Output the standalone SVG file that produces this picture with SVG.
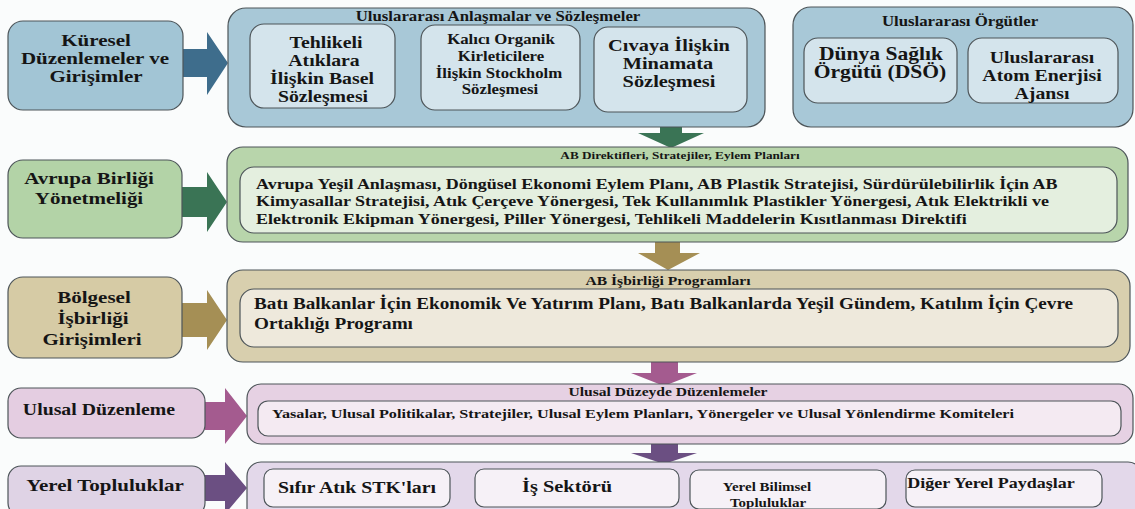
<svg xmlns="http://www.w3.org/2000/svg" width="1135" height="509" viewBox="0 0 1135 509">
<style>
text{font-family:'Liberation Serif','Times New Roman',serif;font-weight:bold;fill:#151515}
.m{text-anchor:middle}
rect{stroke:#4d5559;stroke-width:1.2}
</style>
<rect x="0" y="0" width="1135" height="509" fill="#fafcfc" style="stroke:none"/>

<g id="connectors">
  <polygon points="183,49 207,49 207,32 228,63 207,95 207,77 183,77" fill="#3e6d8c"/>
  <polygon points="182,187 207,187 207,172 227,202 207,232 207,217 182,217" fill="#3a7455"/>
  <polygon points="182,303 207,303 207,290 227,320 207,350 207,337 182,337" fill="#a58f55"/>
  <polygon points="205,402 225,402 225,388 247,416 225,444 225,430 205,430" fill="#a45b8f"/>
  <polygon points="205,475 225,475 225,462 247,488 225,514 225,501 205,501" fill="#6b4f82"/>
  <polygon points="660,127 682,127 682,133 704,133 671,148 638,133 660,133" fill="#3a7455"/>
  <polygon points="655,242 680,242 680,253 700,253 668,270 638,253 655,253" fill="#a58f55"/>
  <polygon points="651,362 678,362 678,373 697,373 664,386 631,373 651,373" fill="#a45b8f"/>
  <polygon points="651,444 678,444 678,453 697,453 664,464 631,453 651,453" fill="#6b4f82"/>
</g>

<g id="kuresel">
  <rect x="8" y="21" width="175" height="89" rx="15" fill="#a2c5d5"/>
  <text class="m" font-size="17.5" transform="translate(96,46) scale(1.2,1)">Küresel</text>
  <text class="m" font-size="17.5" transform="translate(95,64) scale(1.2,1)">Düzenlemeler ve</text>
  <text class="m" font-size="17.5" transform="translate(96,82) scale(1.2,1)">Girişimler</text>
</g>

<g id="anlasmalar">
  <rect x="228" y="8" width="537" height="119" rx="18" fill="#a8c8d7"/>
  <text class="m" font-size="14" transform="translate(498,21) scale(1.2,1)">Uluslararası Anlaşmalar ve Sözleşmeler</text>
</g>
<g id="basel">
  <rect x="250" y="24" width="145" height="84" rx="14" fill="#d4e4ec"/>
  <text class="m" font-size="16.5" transform="translate(326,48) scale(1.2,1)">Tehlikeli</text>
  <text class="m" font-size="16.5" transform="translate(324,66) scale(1.2,1)">Atıklara</text>
  <text class="m" font-size="16.5" transform="translate(322,84) scale(1.2,1)">İlişkin Basel</text>
  <text class="m" font-size="16.5" transform="translate(323,102) scale(1.2,1)">Sözleşmesi</text>
</g>
<g id="stockholm">
  <rect x="421" y="25" width="159" height="85" rx="14" fill="#d4e4ec"/>
  <text class="m" font-size="14" transform="translate(501,44) scale(1.2,1)">Kalıcı Organik</text>
  <text class="m" font-size="14" transform="translate(501,61) scale(1.2,1)">Kirleticilere</text>
  <text class="m" font-size="14" transform="translate(499,78) scale(1.2,1)">İlişkin Stockholm</text>
  <text class="m" font-size="14" transform="translate(500,94) scale(1.2,1)">Sözleşmesi</text>
</g>
<g id="minamata">
  <rect x="594" y="27" width="153" height="85" rx="14" fill="#d4e4ec"/>
  <text class="m" font-size="17" transform="translate(669,51) scale(1.2,1)">Cıvaya İlişkin</text>
  <text class="m" font-size="17" transform="translate(668,69) scale(1.2,1)">Minamata</text>
  <text class="m" font-size="17" transform="translate(669,87) scale(1.2,1)">Sözleşmesi</text>
</g>

<g id="orgutler">
  <rect x="793" y="7" width="340" height="120" rx="18" fill="#a8c8d7"/>
  <text class="m" font-size="14" transform="translate(960,26) scale(1.2,1)">Uluslararası Örgütler</text>
</g>
<g id="dso">
  <rect x="804" y="38" width="153" height="65" rx="14" fill="#d4e4ec"/>
  <text class="m" font-size="18" transform="translate(881,60) scale(1.2,1)">Dünya Sağlık</text>
  <text class="m" font-size="18" transform="translate(880,78) scale(1.2,1)">Örgütü (DSÖ)</text>
</g>
<g id="atom">
  <rect x="968" y="38" width="150" height="65" rx="14" fill="#d4e4ec"/>
  <text class="m" font-size="16.5" transform="translate(1042,63) scale(1.2,1)">Uluslararası</text>
  <text class="m" font-size="16.5" transform="translate(1042,81) scale(1.2,1)">Atom Enerjisi</text>
  <text class="m" font-size="16.5" transform="translate(1042,99) scale(1.2,1)">Ajansı</text>
</g>

<g id="avrupa">
  <rect x="8" y="160" width="174" height="78" rx="15" fill="#b3d3a7"/>
  <text class="m" font-size="17.5" transform="translate(89,184) scale(1.2,1)">Avrupa Birliği</text>
  <text class="m" font-size="17.5" transform="translate(89,204) scale(1.2,1)">Yönetmeliği</text>
</g>
<g id="ab-direktifler">
  <rect x="227" y="147" width="901" height="95" rx="16" fill="#b8d5ab"/>
  <text class="m" font-size="11" transform="translate(680,159) scale(1.2,1)">AB Direktifleri, Stratejiler, Eylem Planları</text>
  <rect x="240" y="167" width="877" height="66" rx="14" fill="#e4efdf"/>
  <text font-size="15" transform="translate(256,189) scale(1.2,1)">Avrupa Yeşil Anlaşması, Döngüsel Ekonomi Eylem Planı, AB Plastik Stratejisi, Sürdürülebilirlik İçin AB</text>
  <text font-size="15" transform="translate(256,206) scale(1.2,1)">Kimyasallar Stratejisi, Atık Çerçeve Yönergesi, Tek Kullanımlık Plastikler Yönergesi, Atık Elektrikli ve</text>
  <text font-size="15" transform="translate(256,224) scale(1.2,1)">Elektronik Ekipman Yönergesi, Piller Yönergesi, Tehlikeli Maddelerin Kısıtlanması Direktifi</text>
</g>

<g id="bolgesel">
  <rect x="8" y="277" width="174" height="81" rx="15" fill="#d6cba5"/>
  <text class="m" font-size="17.5" transform="translate(94,303) scale(1.2,1)">Bölgesel</text>
  <text class="m" font-size="17.5" transform="translate(93,324) scale(1.2,1)">İşbirliği</text>
  <text class="m" font-size="17.5" transform="translate(92,345) scale(1.2,1)">Girişimleri</text>
</g>
<g id="ab-isbirligi">
  <rect x="227" y="270" width="903" height="92" rx="16" fill="#d8cfae"/>
  <text class="m" font-size="13" transform="translate(668,285) scale(1.2,1)">AB İşbirliği Programları</text>
  <rect x="240" y="289" width="878" height="58" rx="14" fill="#eee9dc"/>
  <text font-size="16" transform="translate(254,309) scale(1.2,1)">Batı Balkanlar İçin Ekonomik Ve Yatırım Planı, Batı Balkanlarda Yeşil Gündem, Katılım İçin Çevre</text>
  <text font-size="16" transform="translate(254,329) scale(1.2,1)">Ortaklığı Programı</text>
</g>

<g id="ulusal">
  <rect x="8" y="388" width="197" height="50" rx="13" fill="#e4cde1"/>
  <text class="m" font-size="16.5" transform="translate(99,415) scale(1.2,1)">Ulusal Düzenleme</text>
</g>
<g id="ulusal-duzey">
  <rect x="247" y="384" width="886" height="60" rx="14" fill="#e6d1e3"/>
  <text class="m" font-size="13" transform="translate(668,396) scale(1.2,1)">Ulusal Düzeyde Düzenlemeler</text>
  <rect x="258" y="401" width="863" height="35" rx="10" fill="#f4eaf2"/>
  <text font-size="13.5" transform="translate(272,418) scale(1.2,1)">Yasalar, Ulusal Politikalar, Stratejiler, Ulusal Eylem Planları, Yönergeler ve Ulusal Yönlendirme Komiteleri</text>
</g>

<g id="yerel">
  <rect x="8" y="466" width="197" height="50" rx="13" fill="#dfd3e5"/>
  <text class="m" font-size="17.5" transform="translate(105,491) scale(1.2,1)">Yerel Topluluklar</text>
</g>
<g id="yerel-container">
  <rect x="247" y="462" width="895" height="60" rx="14" fill="#e3d8ea"/>
</g>
<g id="stk">
  <rect x="264" y="469" width="186" height="38" rx="9" fill="#f6f1f7"/>
  <text class="m" font-size="16.5" transform="translate(357,493) scale(1.2,1)">Sıfır Atık STK'ları</text>
</g>
<g id="is-sektoru">
  <rect x="475" y="469" width="204" height="38" rx="9" fill="#f6f1f7"/>
  <text class="m" font-size="17" transform="translate(567,492) scale(1.2,1)">İş Sektörü</text>
</g>
<g id="bilimsel">
  <rect x="690" y="470" width="196" height="39" rx="9" fill="#f6f1f7"/>
  <text class="m" font-size="12.5" transform="translate(767,491) scale(1.2,1)">Yerel Bilimsel</text>
  <text class="m" font-size="12.5" transform="translate(768,507) scale(1.2,1)">Topluluklar</text>
</g>
<g id="diger">
  <rect x="906" y="470" width="196" height="37" rx="9" fill="#f6f1f7"/>
  <text class="m" font-size="15" transform="translate(991,488) scale(1.2,1)">Diğer Yerel Paydaşlar</text>
</g>
</svg>
